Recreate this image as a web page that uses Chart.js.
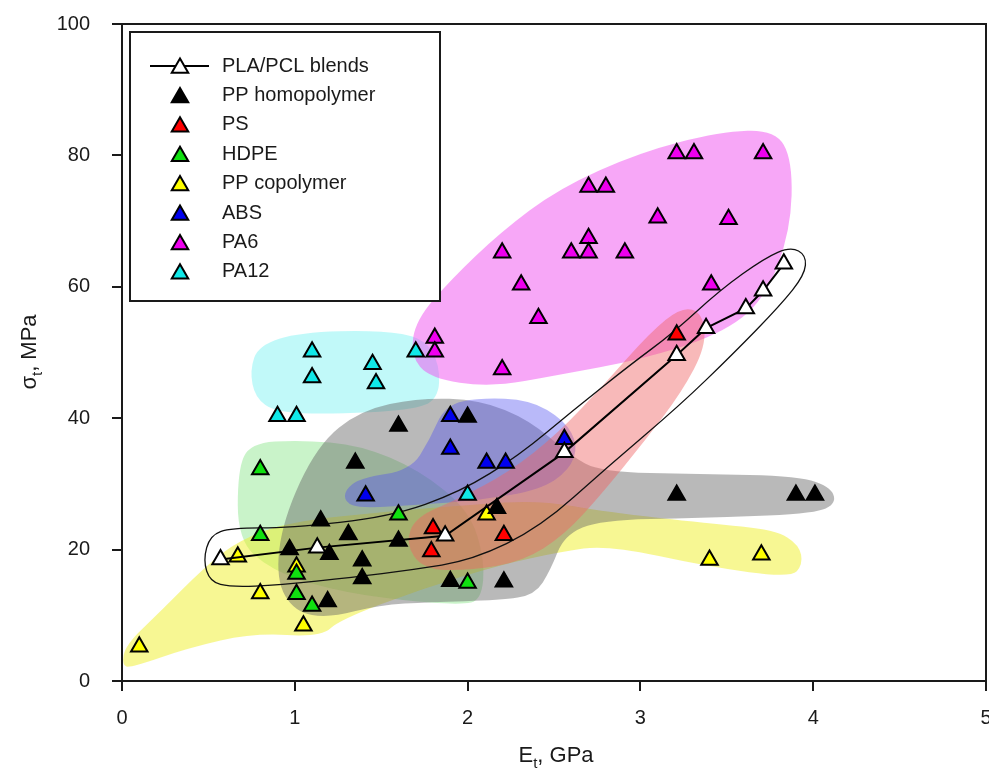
<!DOCTYPE html>
<html>
<head>
<meta charset="utf-8">
<title>Tensile strength vs modulus</title>
<script src="https://cdn.jsdelivr.net/npm/chart.js@4.4.0/dist/chart.umd.min.js"></script>
<style>
    html, body { margin: 0; padding: 0; background: #fff; }
</style>
</head>
<body>
<canvas id="tensileChart" width="989" height="774"></canvas>
<script>
// values: E_t in GPa, sigma_t in MPa
const plaX = [0.57, 1.13, 1.87, 2.56, 3.21, 3.38, 3.61, 3.71, 3.83];
const plaY = [18.5, 20.3, 22.1, 34.8, 49.6, 53.7, 56.7, 59.4, 63.5];

const ppHomoX = [1.60, 1.35, 1.15, 1.31, 0.97, 1.20, 1.60, 1.39, 1.39, 1.19, 1.90, 2.00, 2.17, 2.21, 3.21, 3.90, 4.01];
const ppHomoY = [38.8, 33.2, 24.4, 22.3, 20.0, 19.3, 21.3, 18.3, 15.6, 12.1, 15.2, 40.2, 26.3, 15.1, 28.3, 28.3, 28.3];

const psX = [1.80, 1.79, 2.21, 3.21];
const psY = [23.2, 19.7, 22.2, 52.7];

const hdpeX = [0.80, 0.80, 1.60, 1.01, 1.01, 1.10, 2.00];
const hdpeY = [32.2, 22.2, 25.3, 16.3, 13.2, 11.4, 14.9];

const ppCoX = [0.10, 0.67, 1.01, 0.80, 1.05, 2.11, 3.40, 3.70];
const ppCoY = [5.2, 18.9, 17.4, 13.3, 8.4, 25.3, 18.4, 19.2];

const absX = [1.41, 1.90, 1.90, 2.11, 2.22, 2.56];
const absY = [28.2, 40.3, 35.3, 33.2, 33.2, 36.8];

const pa6X = [3.21, 3.31, 3.71, 2.70, 2.80, 3.10, 3.51, 2.70, 2.60, 2.70, 2.91, 2.20, 2.31, 3.41, 2.41, 1.81, 1.81, 2.20];
const pa6Y = [80.3, 80.3, 80.3, 75.2, 75.2, 70.5, 70.3, 67.4, 65.2, 65.2, 65.2, 65.2, 60.3, 60.3, 55.2, 52.2, 50.1, 47.4];

const pa12X = [1.10, 1.10, 1.45, 1.47, 1.70, 0.90, 1.01, 2.00];
const pa12Y = [50.1, 46.2, 48.2, 45.3, 50.1, 40.3, 40.3, 28.3];

const xTicks = [0, 1, 2, 3, 4, 5];
const yTicks = [0, 20, 40, 60, 80, 100];

// outlines of the shaded material groups, in data units
const pa12Zone = [[0.79, 51.1], [1.03, 53.1], [1.49, 53.4], [1.75, 52.2], [1.84, 48.1], [1.83, 42.8], [1.67, 41.2], [1.20, 40.6], [0.89, 40.9], [0.77, 43.1], [0.74, 47.3]];
const pa6Zone = [[1.70, 54.9], [1.90, 61.0], [2.19, 68.3], [2.53, 75.0], [3.00, 80.5], [3.46, 83.6], [3.78, 83.9], [3.88, 79.3], [3.87, 68.6], [3.72, 58.0], [3.46, 52.7], [3.00, 48.9], [2.53, 46.6], [2.13, 44.7], [1.78, 46.1], [1.67, 49.6]];
const hdpeZone = [[0.67, 32.1], [0.74, 36.2], [1.03, 36.7], [1.38, 35.9], [1.72, 32.1], [2.01, 26.0], [2.10, 18.4], [2.08, 12.3], [1.96, 11.6], [1.61, 12.3], [1.20, 13.9], [0.86, 16.9], [0.67, 21.5]];
const ppCoZone = [[0.00, 2.4], [0.02, 5.5], [0.22, 10.5], [0.48, 17.4], [0.68, 21.5], [0.97, 24.2], [1.49, 25.7], [2.01, 26.8], [2.42, 27.5], [2.81, 25.7], [3.39, 24.0], [3.78, 23.0], [3.92, 20.7], [3.94, 17.7], [3.87, 15.7], [3.39, 17.4], [2.81, 20.7], [2.53, 19.6], [2.19, 17.7], [1.72, 13.9], [1.26, 9.3], [1.15, 6.7], [0.76, 7.3], [0.38, 5.0], [0.05, 2.0]];
const ppHomoZone = [[0.89, 15.4], [0.93, 24.5], [1.13, 35.9], [1.38, 41.2], [1.72, 43.1], [2.07, 42.8], [2.36, 39.7], [2.59, 34.4], [2.77, 31.8], [3.34, 31.5], [3.92, 31.2], [4.11, 29.4], [4.13, 26.8], [3.98, 25.4], [3.34, 24.8], [2.77, 24.5], [2.56, 22.2], [2.48, 16.9], [2.39, 13.1], [2.19, 12.3], [1.78, 12.0], [1.49, 11.6], [1.20, 9.6], [1.00, 10.5]];
const absZone = [[1.29, 29.1], [1.38, 30.9], [1.67, 32.1], [1.78, 36.7], [1.87, 42.0], [2.07, 43.1], [2.36, 42.8], [2.56, 39.7], [2.64, 35.9], [2.59, 32.1], [2.42, 29.1], [2.07, 27.5], [1.72, 26.8], [1.38, 26.3], [1.29, 27.2]];
const psZone = [[1.64, 21.0], [1.70, 25.0], [1.94, 27.6], [2.24, 31.8], [2.52, 37.6], [2.80, 45.4], [3.05, 52.9], [3.24, 57.0], [3.36, 56.0], [3.38, 51.0], [3.24, 44.0], [3.02, 36.4], [2.78, 28.6], [2.56, 22.2], [2.32, 18.2], [2.01, 16.8], [1.74, 17.0]];
const plaZone = [[0.51, 22.2], [0.63, 23.3], [0.97, 23.3], [1.55, 25.0], [1.96, 28.8], [2.30, 34.4], [2.61, 41.2], [2.94, 48.1], [3.19, 53.0], [3.46, 59.5], [3.72, 64.4], [3.87, 66.1], [3.96, 64.8], [3.95, 61.8], [3.81, 57.2], [3.54, 49.9], [3.23, 42.0], [2.81, 32.6], [2.42, 23.4], [2.03, 18.4], [1.67, 16.9], [1.34, 15.8], [0.91, 14.6], [0.63, 14.3], [0.51, 15.1], [0.47, 18.4]];

const FONT = '"Liberation Sans", Arial, sans-serif';
const INK = '#1a1a1a';

function pts(xs, ys) {
    return xs.map((x, i) => ({ x: x, y: ys[i] }));
}

function markerSet(label, xs, ys, fill) {
    return {
        label: label,
        data: pts(xs, ys),
        showLine: false,
        pointStyle: 'triangle',
        pointRadius: 9.5,
        pointHoverRadius: 9.5,
        pointBorderWidth: 2,
        pointBackgroundColor: fill,
        pointBorderColor: '#000',
        backgroundColor: fill,
        borderColor: '#000'
    };
}

const plaSet = markerSet('PLA/PCL blends', plaX, plaY, '#ffffff');
plaSet.showLine = true;
plaSet.borderWidth = 2;

const datasets = [
    plaSet,
    markerSet('PP homopolymer', ppHomoX, ppHomoY, '#000000'),
    markerSet('PS', psX, psY, '#ff0000'),
    markerSet('HDPE', hdpeX, hdpeY, '#10e010'),
    markerSet('PP copolymer', ppCoX, ppCoY, '#ffff00'),
    markerSet('ABS', absX, absY, '#0000ee'),
    markerSet('PA6', pa6X, pa6Y, '#ee00ee'),
    markerSet('PA12', pa12X, pa12Y, '#10e8e8')
];

// shaded zones, back to front
const zones = [
    { outline: pa12Zone, color: 'rgba(100, 240, 240, 0.40)' },
    { outline: pa6Zone, color: 'rgba(240, 80, 240, 0.50)' },
    { outline: hdpeZone, color: 'rgba(100, 220, 100, 0.35)' },
    { outline: ppCoZone, color: 'rgba(240, 240, 40, 0.50)' },
    { outline: ppHomoZone, color: 'rgba(100, 100, 100, 0.45)' },
    { outline: absZone, color: 'rgba(80, 80, 240, 0.40)' },
    { outline: psZone, color: 'rgba(240, 100, 100, 0.45)' }
];

// smooth closed curve through the midpoints
function tracePath(ctx, p) {
    const n = p.length;
    const mid = (a, b) => [(a[0] + b[0]) / 2, (a[1] + b[1]) / 2];
    let m = mid(p[n - 1], p[0]);
    ctx.beginPath();
    ctx.moveTo(m[0], m[1]);
    for (let i = 0; i < n; i++) {
        const nxt = mid(p[i], p[(i + 1) % n]);
        ctx.quadraticCurveTo(p[i][0], p[i][1], nxt[0], nxt[1]);
    }
    ctx.closePath();
}

const zonePlugin = {
    id: 'zones',
    beforeDatasetsDraw(chart) {
        const { ctx, chartArea, scales } = chart;
        const toPx = o => o.map(d => [scales.x.getPixelForValue(d[0]), scales.y.getPixelForValue(d[1])]);
        ctx.save();
        ctx.beginPath();
        ctx.rect(chartArea.left, chartArea.top, chartArea.width, chartArea.height);
        ctx.clip();
        zones.forEach(z => {
            tracePath(ctx, toPx(z.outline));
            ctx.fillStyle = z.color;
            ctx.fill();
        });
        tracePath(ctx, toPx(plaZone));
        ctx.strokeStyle = '#111';
        ctx.lineWidth = 1.3;
        ctx.stroke();
        ctx.restore();
    }
};

const framePlugin = {
    id: 'frame',
    afterDraw(chart) {
        const { ctx, chartArea, scales } = chart;
        ctx.save();
        ctx.strokeStyle = INK;
        ctx.lineWidth = 2;
        ctx.strokeRect(chartArea.left, chartArea.top, chartArea.width, chartArea.height);

        // x tick labels, centred under each tick even at the right edge
        ctx.fillStyle = INK;
        ctx.font = '20px ' + FONT;
        ctx.textAlign = 'center';
        ctx.textBaseline = 'middle';
        xTicks.forEach(v => {
            ctx.fillText(String(v), scales.x.getPixelForValue(v), chartArea.bottom + 37);
        });
        ctx.textAlign = 'left';

        // legend box
        const lx = 130, ly = 32, lw = 310, lh = 269;
        ctx.fillStyle = '#fff';
        ctx.fillRect(lx, ly, lw, lh);
        ctx.strokeRect(lx, ly, lw, lh);
        ctx.font = '20px ' + FONT;
        ctx.textBaseline = 'middle';
        chart.data.datasets.forEach((ds, i) => {
            const cy = 66 + i * 29.4;
            if (ds.showLine) {
                ctx.beginPath();
                ctx.moveTo(150, cy);
                ctx.lineTo(209, cy);
                ctx.lineWidth = 2;
                ctx.strokeStyle = '#000';
                ctx.stroke();
            }
            ctx.fillStyle = ds.pointBackgroundColor;
            ctx.strokeStyle = '#000';
            ctx.lineWidth = 2;
            Chart.helpers.drawPoint(ctx, { pointStyle: 'triangle', radius: 9.5, borderWidth: 2, rotation: 0 }, 180, cy + 2);
            ctx.fillStyle = INK;
            ctx.fillText(ds.label, 222, cy);
        });

        // axis titles with subscript t
        ctx.fillStyle = INK;
        ctx.textBaseline = 'alphabetic';
        drawTitle(ctx, 'E', ', GPa', 556, 762, 0);
        drawTitle(ctx, '\u03C3', ', MPa', 36, 352, -Math.PI / 2);
        ctx.restore();
    }
};

function drawTitle(ctx, main, rest, cx, cy, angle) {
    const big = '22px ' + FONT, small = '15px ' + FONT;
    ctx.font = big;
    const w1 = ctx.measureText(main).width;
    const w3 = ctx.measureText(rest).width;
    ctx.font = small;
    const w2 = ctx.measureText('t').width;
    const total = w1 + w2 + w3;
    ctx.save();
    ctx.translate(cx, cy);
    ctx.rotate(angle);
    let x = -total / 2;
    ctx.font = big;
    ctx.fillText(main, x, 0);
    x += w1;
    ctx.font = small;
    ctx.fillText('t', x, 6);
    x += w2;
    ctx.font = big;
    ctx.fillText(rest, x, 0);
    ctx.restore();
}

const axisStyle = {
    grid: { drawOnChartArea: false, drawTicks: true, tickLength: 10, tickColor: INK, lineWidth: 2 },
    border: { display: true, color: INK, width: 2 }
};

const ctx = document.getElementById('tensileChart').getContext('2d');
new Chart(ctx, {
    type: 'scatter',
    data: { datasets: datasets },
    options: {
        responsive: false,
        animation: false,
        layout: { autoPadding: false, padding: { top: 24, right: 3, left: 0, bottom: 0 } },
        plugins: {
            legend: { display: false },
            tooltip: { enabled: false }
        },
        scales: {
            x: {
                type: 'linear',
                min: 0,
                max: 5,
                afterBuildTicks: s => { s.ticks = xTicks.map(v => ({ value: v })); },
                afterFit: s => { s.height = 93; },
                ticks: { display: false },
                grid: axisStyle.grid,
                border: axisStyle.border
            },
            y: {
                type: 'linear',
                min: 0,
                max: 100,
                afterBuildTicks: s => { s.ticks = yTicks.map(v => ({ value: v })); },
                afterFit: s => { s.width = 122; s.paddingTop = 0; s.paddingBottom = 0; },
                ticks: { color: INK, font: { size: 20, family: FONT }, padding: 22 },
                grid: axisStyle.grid,
                border: axisStyle.border
            }
        }
    },
    plugins: [zonePlugin, framePlugin]
});
</script>
</body>
</html>
